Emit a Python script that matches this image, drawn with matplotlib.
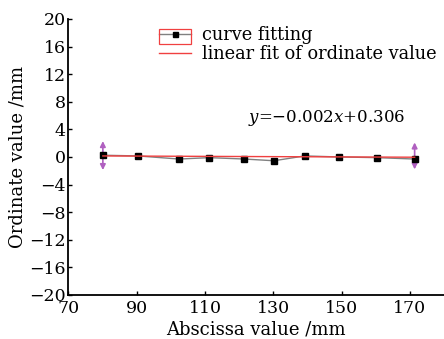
import matplotlib
matplotlib.use("Agg")
import matplotlib.pyplot as plt
import numpy as np
from matplotlib.patches import Rectangle

x_vals = [80.1, 90.3, 102.4, 111.3, 121.5, 130.2, 139.2, 149.2, 160.3, 171.4]
y_vals = [0.25, 0.15, -0.3, -0.1, -0.3, -0.55, 0.15, 0.0, -0.1, -0.3]
fit_slope = -0.002
fit_intercept = 0.306
arrow_x = [80.1, 171.4]
arrow_lo = [-1.9, -1.8]
arrow_hi = [2.3, 2.1]
xticks = [70, 90, 110, 130, 150, 170]
yticks = [-20, -16, -12, -8, -4, 0, 4, 8, 12, 16, 20]

plt.rcParams['font.family'] = ['DejaVu Serif']
plt.rcParams['mathtext.fontset'] = 'dejavuserif'

fig = plt.figure(figsize=(4.44, 3.39), dpi=100)
ax = fig.add_axes([0.154, 0.130, 0.846, 0.814])

ax.plot(x_vals, y_vals, color='#808080', lw=1.0, marker='s', ms=4.5,
        mfc='black', mec='black', zorder=3, label='curve fitting')
fx = np.array([x_vals[0], x_vals[-1]])
ax.plot(fx, fit_slope * fx + fit_intercept, color='#f04040', lw=1.0, zorder=4,
        label='linear fit of ordinate value')

for xa, lo, hi in zip(arrow_x, arrow_lo, arrow_hi):
    ax.annotate('', xy=(xa, hi), xytext=(xa, lo),
                arrowprops=dict(arrowstyle='<|-|>', color='#b060c0', lw=1.2,
                                mutation_scale=8, shrinkA=0, shrinkB=0), zorder=2)

ax.set_xlim(70, 180)
ax.set_ylim(-20, 20)
ax.set_xticks(xticks)
ax.set_yticks(yticks)
ax.set_yticklabels([str(t).replace('-', '\u2212') for t in yticks])
ax.tick_params(direction='in', length=3, width=1, labelsize=12.5, pad=2)
ax.tick_params(axis='x', pad=4)
for s in ['top', 'right']:
    ax.spines[s].set_visible(False)
for s in ['left', 'bottom']:
    ax.spines[s].set_linewidth(1.3)

ax.set_xlabel('Abscissa value /mm', fontsize=13, labelpad=2)
ax.set_ylabel('Ordinate value /mm', fontsize=13, labelpad=2)

leg = ax.legend(loc='upper left', bbox_to_anchor=(159.3 / 444, 1 - 26.5 / 339),
                bbox_transform=fig.transFigure, frameon=False,
                fontsize=12.8, handlelength=1.8, handletextpad=0.62,
                labelspacing=0.05, borderpad=0, borderaxespad=0, markerscale=0.8)

fig.add_artist(Rectangle((159.3 / 444, 1 - 43.5 / 339), 31.4 / 444, 15 / 339,
                         transform=fig.transFigure, fill=False, ec='#f04040',
                         lw=0.9))

ax.text(0.479, 0.641, r'$y$=$-$0.002$x$+0.306', transform=ax.transAxes,
        fontsize=12, ha='left', va='center')

fig.savefig('out.png', dpi=100)
